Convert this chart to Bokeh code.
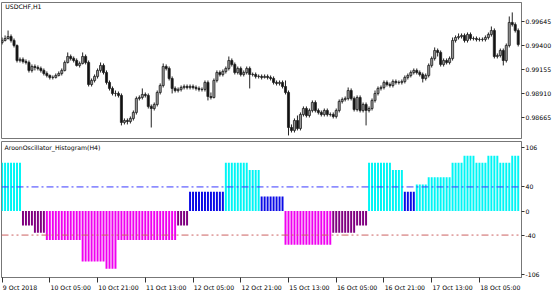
from bokeh.plotting import figure
from bokeh.models import ColumnDataSource, Range1d, FixedTicker, Label, Span, PrintfTickFormatter
from bokeh.layouts import column
from bokeh.embed import file_html
from bokeh.resources import INLINE

symbol_title = "USDCHF,H1"
indicator_title = "AroonOscillator_Histogram(H4)"

open_ = [0.99431, 0.99452, 0.99472, 0.99492, 0.99452, 0.99401, 0.99248, 0.99259, 0.99238, 0.99228,
         0.99147, 0.99187, 0.99177, 0.99167, 0.99147, 0.99116, 0.99096, 0.99076, 0.99076, 0.99096,
         0.99116, 0.99147, 0.99228, 0.99289, 0.99269, 0.99248, 0.99198, 0.99218, 0.99289, 0.99228,
         0.99004, 0.99045, 0.99086, 0.99147, 0.99198, 0.99126, 0.99025, 0.98964, 0.98913, 0.98913,
         0.98893, 0.98618, 0.98638, 0.98628, 0.98659, 0.98720, 0.98862, 0.98872, 0.98903, 0.98893,
         0.98781, 0.98760, 0.98801, 0.98923, 0.98994, 0.99187, 0.99167, 0.99065, 0.98964, 0.98943,
         0.98954, 0.98974, 0.98984, 0.98974, 0.98984, 0.98974, 0.98964, 0.98954, 0.98954, 0.99025,
         0.98882, 0.98872, 0.99045, 0.99126, 0.99106, 0.99137, 0.99167, 0.99248, 0.99208, 0.99126,
         0.99167, 0.99106, 0.99126, 0.99167, 0.99106, 0.99106, 0.99086, 0.99086, 0.99076, 0.99086,
         0.99076, 0.99065, 0.99025, 0.99015, 0.99025, 0.98984, 0.98923, 0.98567, 0.98537, 0.98638,
         0.98557, 0.98699, 0.98760, 0.98689, 0.98740, 0.98821, 0.98740, 0.98720, 0.98699, 0.98740,
         0.98699, 0.98699, 0.98679, 0.98740, 0.98832, 0.98852, 0.98862, 0.98943, 0.98862, 0.98750,
         0.98872, 0.98740, 0.98801, 0.98740, 0.98760, 0.98842, 0.98913, 0.98964, 0.98974, 0.99025,
         0.99004, 0.98994, 0.99035, 0.99025, 0.99025, 0.99035, 0.99076, 0.99096, 0.99126, 0.99147,
         0.99126, 0.99106, 0.99065, 0.99096, 0.99198, 0.99269, 0.99350, 0.99330, 0.99208, 0.99248,
         0.99228, 0.99269, 0.99452, 0.99482, 0.99492, 0.99503, 0.99452, 0.99513, 0.99472, 0.99472,
         0.99462, 0.99462, 0.99462, 0.99482, 0.99513, 0.99553, 0.99289, 0.99299, 0.99350, 0.99248,
         0.99401, 0.99635, 0.99614, 0.99553]

high = [0.99482, 0.99503, 0.99553, 0.99513, 0.99472, 0.99411, 0.99279, 0.99279, 0.99259, 0.99248,
        0.99208, 0.99208, 0.99198, 0.99187, 0.99167, 0.99137, 0.99106, 0.99096, 0.99116, 0.99137,
        0.99167, 0.99248, 0.99330, 0.99309, 0.99289, 0.99269, 0.99238, 0.99330, 0.99309, 0.99248,
        0.99065, 0.99106, 0.99167, 0.99228, 0.99218, 0.99147, 0.99045, 0.98984, 0.98943, 0.98933,
        0.98913, 0.98659, 0.98659, 0.98679, 0.98740, 0.98882, 0.98893, 0.98964, 0.98923, 0.98913,
        0.98801, 0.98821, 0.98943, 0.99015, 0.99218, 0.99208, 0.99187, 0.99086, 0.98984, 0.98974,
        0.98994, 0.99004, 0.99004, 0.99004, 0.99004, 0.98994, 0.98984, 0.98974, 0.99045, 0.99045,
        0.98923, 0.99065, 0.99147, 0.99147, 0.99157, 0.99187, 0.99289, 0.99269, 0.99228, 0.99187,
        0.99187, 0.99147, 0.99187, 0.99187, 0.99126, 0.99126, 0.99106, 0.99106, 0.99106, 0.99106,
        0.99096, 0.99086, 0.99045, 0.99045, 0.99045, 0.99045, 0.98943, 0.98598, 0.98659, 0.98689,
        0.98720, 0.98781, 0.98781, 0.98760, 0.98842, 0.98842, 0.98760, 0.98740, 0.98760, 0.98760,
        0.98720, 0.98720, 0.98760, 0.98852, 0.98872, 0.98882, 0.98974, 0.98964, 0.98882, 0.98893,
        0.98893, 0.98821, 0.98821, 0.98781, 0.98862, 0.98943, 0.98984, 0.98994, 0.99045, 0.99045,
        0.99025, 0.99055, 0.99055, 0.99045, 0.99055, 0.99096, 0.99116, 0.99147, 0.99167, 0.99167,
        0.99147, 0.99126, 0.99116, 0.99218, 0.99289, 0.99381, 0.99370, 0.99350, 0.99269, 0.99269,
        0.99289, 0.99482, 0.99503, 0.99523, 0.99523, 0.99523, 0.99533, 0.99533, 0.99492, 0.99492,
        0.99482, 0.99482, 0.99503, 0.99533, 0.99594, 0.99574, 0.99320, 0.99370, 0.99370, 0.99421,
        0.99696, 0.99737, 0.99635, 0.99574]

low = [0.99411, 0.99442, 0.99462, 0.99431, 0.99381, 0.99228, 0.99228, 0.99218, 0.99208, 0.99126,
       0.99126, 0.99147, 0.99147, 0.99126, 0.99096, 0.99076, 0.99055, 0.99055, 0.99065, 0.99086,
       0.99096, 0.99137, 0.99218, 0.99248, 0.99228, 0.99187, 0.99177, 0.99208, 0.99208, 0.98984,
       0.98984, 0.99025, 0.99065, 0.99126, 0.99106, 0.99004, 0.98943, 0.98893, 0.98882, 0.98872,
       0.98588, 0.98598, 0.98598, 0.98608, 0.98638, 0.98699, 0.98842, 0.98852, 0.98872, 0.98760,
       0.98567, 0.98740, 0.98781, 0.98903, 0.98974, 0.99147, 0.99045, 0.98913, 0.98923, 0.98923,
       0.98933, 0.98954, 0.98954, 0.98954, 0.98954, 0.98943, 0.98933, 0.98933, 0.98933, 0.98842,
       0.98852, 0.98862, 0.99025, 0.99086, 0.99086, 0.99116, 0.99147, 0.99187, 0.99106, 0.99106,
       0.99086, 0.99086, 0.99106, 0.98964, 0.99086, 0.99065, 0.99065, 0.99055, 0.99065, 0.99055,
       0.99045, 0.99004, 0.98994, 0.98994, 0.98964, 0.98903, 0.98486, 0.98516, 0.98516, 0.98537,
       0.98537, 0.98679, 0.98669, 0.98669, 0.98720, 0.98720, 0.98699, 0.98679, 0.98679, 0.98679,
       0.98679, 0.98659, 0.98659, 0.98720, 0.98811, 0.98832, 0.98842, 0.98842, 0.98730, 0.98730,
       0.98720, 0.98720, 0.98588, 0.98720, 0.98740, 0.98821, 0.98893, 0.98943, 0.98954, 0.98984,
       0.98974, 0.98974, 0.99004, 0.99004, 0.99004, 0.99015, 0.99055, 0.99076, 0.99106, 0.99106,
       0.99086, 0.99025, 0.99045, 0.99076, 0.99177, 0.99248, 0.99289, 0.99187, 0.99187, 0.99208,
       0.99208, 0.99248, 0.99431, 0.99462, 0.99472, 0.99431, 0.99431, 0.99452, 0.99452, 0.99442,
       0.99442, 0.99442, 0.99442, 0.99462, 0.99492, 0.99269, 0.99269, 0.99279, 0.99198, 0.99228,
       0.99381, 0.99594, 0.99533, 0.99391]

close = [0.99452, 0.99472, 0.99492, 0.99452, 0.99401, 0.99248, 0.99259, 0.99238, 0.99228, 0.99147,
         0.99187, 0.99177, 0.99167, 0.99147, 0.99116, 0.99096, 0.99076, 0.99076, 0.99096, 0.99116,
         0.99147, 0.99228, 0.99289, 0.99269, 0.99248, 0.99198, 0.99218, 0.99289, 0.99228, 0.99004,
         0.99045, 0.99086, 0.99147, 0.99198, 0.99126, 0.99025, 0.98964, 0.98913, 0.98913, 0.98893,
         0.98618, 0.98638, 0.98628, 0.98659, 0.98720, 0.98862, 0.98872, 0.98903, 0.98893, 0.98781,
         0.98760, 0.98801, 0.98923, 0.98994, 0.99187, 0.99167, 0.99065, 0.98964, 0.98943, 0.98954,
         0.98974, 0.98984, 0.98974, 0.98984, 0.98974, 0.98964, 0.98954, 0.98954, 0.99025, 0.98882,
         0.98872, 0.99045, 0.99126, 0.99106, 0.99137, 0.99167, 0.99248, 0.99208, 0.99126, 0.99167,
         0.99106, 0.99126, 0.99167, 0.99106, 0.99106, 0.99086, 0.99086, 0.99076, 0.99086, 0.99076,
         0.99065, 0.99025, 0.99015, 0.99025, 0.98984, 0.98923, 0.98567, 0.98537, 0.98638, 0.98557,
         0.98699, 0.98760, 0.98689, 0.98740, 0.98821, 0.98740, 0.98720, 0.98699, 0.98740, 0.98699,
         0.98699, 0.98679, 0.98740, 0.98832, 0.98852, 0.98862, 0.98943, 0.98862, 0.98750, 0.98872,
         0.98740, 0.98801, 0.98740, 0.98760, 0.98842, 0.98913, 0.98964, 0.98974, 0.99025, 0.99004,
         0.98994, 0.99035, 0.99025, 0.99025, 0.99035, 0.99076, 0.99096, 0.99126, 0.99147, 0.99126,
         0.99106, 0.99065, 0.99096, 0.99198, 0.99269, 0.99350, 0.99330, 0.99208, 0.99248, 0.99228,
         0.99269, 0.99452, 0.99482, 0.99492, 0.99503, 0.99452, 0.99513, 0.99472, 0.99472, 0.99462,
         0.99462, 0.99462, 0.99482, 0.99513, 0.99553, 0.99289, 0.99299, 0.99350, 0.99248, 0.99401,
         0.99635, 0.99614, 0.99553, 0.99411]

aroon = [80, 80, 80, 80, 80, 80, 80,
         -24, -24, -24, -24,
         -36, -36, -36, -36,
         -48, -48, -48, -48, -48, -48, -48, -48, -48, -48, -48, -48,
         -84, -84, -84, -84, -84, -84, -84, -84,
         -96, -96, -96, -96,
         -48, -48, -48, -48, -48, -48, -48, -48, -48, -48,
         -48, -48, -48, -48, -48, -48, -48, -48, -48, -48,
         -24, -24, -24, -24,
         32, 32, 32, 32, 32, 32, 32, 32, 32, 32, 32, 32,
         80, 80, 80, 80, 80, 80, 80, 80,
         68, 68, 68, 68,
         24, 24, 24, 24, 24, 24, 24, 24,
         -56, -56, -56, -56, -56, -56, -56, -56, -56, -56, -56, -56, -56, -56, -56, -56,
         -36, -36, -36, -36, -36, -36, -36, -36,
         -24, -24, -24, -24,
         80, 80, 80, 80, 80, 80, 80, 80,
         68, 68, 68, 68,
         32, 32, 32, 32,
         44, 44, 44, 44,
         56, 56, 56, 56, 56, 56, 56, 56,
         80, 80, 80, 80,
         92, 92, 92, 92,
         80, 80, 80, 80,
         92, 92, 92, 92,
         80, 80, 80, 80,
         92, 92, 92]

price_ticks = [0.98665, 0.98910, 0.99155, 0.99400, 0.99645]
osc_ticks = [-106, -40, 0, 40, 106]
osc_levels = [40, -40]
time_tick_bars = [0, 16, 32, 48, 64, 80, 96, 112, 128, 144, 160]
time_tick_labels = ["9 Oct 2018", "10 Oct 05:00", "10 Oct 21:00", "11 Oct 13:00",
                    "12 Oct 05:00", "12 Oct 21:00", "15 Oct 13:00", "16 Oct 05:00",
                    "16 Oct 21:00", "17 Oct 13:00", "18 Oct 05:00"]

FONT = "DejaVu Sans"
FS = "6.2px"
FRAME = "#777777"

n = len(close)
bars = list(range(n))
up = [c >= o for o, c in zip(open_, close)]
candles = ColumnDataSource(dict(
    x=bars, high=high, low=low,
    top=[max(o, c) for o, c in zip(open_, close)],
    bottom=[min(o, c) for o, c in zip(open_, close)],
    fill=["#9a9a9a" if u else "#111111" for u in up],
))


def osc_color(v):
    if v > 40:
        return "#00f5f5"
    if v > 0:
        return "#0a0ae6"
    if v < -40:
        return "#f000f0"
    return "#800080"


hist = ColumnDataSource(dict(x=bars, top=aroon, color=[osc_color(v) for v in aroon]))

xr = Range1d(-0.2, 174.1)

p1 = figure(frame_width=520, frame_height=136, x_range=xr, y_range=Range1d(0.98455, 0.99838),
            output_backend="svg", toolbar_location=None, x_axis_location=None,
            y_axis_location="right", min_border_left=1, min_border_right=39,
            min_border_top=2, min_border_bottom=1)
p1.segment(x0="x", x1="x", y0="low", y1="high", source=candles, line_color="#222222", line_width=1)
p1.vbar(x="x", width=0.7, top="top", bottom="bottom", source=candles,
        fill_color="fill", line_color="#222222", line_width=0.8)
p1.add_layout(Label(x=3.7, y=128.5, x_units="screen", y_units="screen", text=symbol_title,
                    text_font=FONT, text_font_size=FS, text_color="black"))

p2 = figure(frame_width=520, frame_height=136, x_range=xr, y_range=Range1d(-110.5, 115.5),
            output_backend="svg", toolbar_location=None, y_axis_location="right",
            min_border_left=1, min_border_right=39, min_border_top=2, min_border_bottom=17)
p2.vbar(x="x", width=0.66, top="top", bottom=0, source=hist, fill_color="color",
        line_color=None)
p2.add_layout(Span(location=osc_levels[0], dimension="width", line_color="#3a3aff",
                   line_width=1, line_dash="7 3 2 3"))
p2.add_layout(Span(location=osc_levels[1], dimension="width", line_color="#cc6060",
                   line_width=1, line_dash="7 3 2 3 2 3"))
p2.add_layout(Label(x=3, y=126.3, x_units="screen", y_units="screen", text=indicator_title,
                    text_font=FONT, text_font_size=FS, text_color="black"))

for p in (p1, p2):
    p.grid.visible = False
    p.outline_line_color = FRAME
    p.background_fill_color = "white"
    p.border_fill_color = "white"
    ya = p.yaxis[0]
    ya.axis_line_color = FRAME
    ya.major_tick_out = 3
    ya.major_tick_in = 0
    ya.major_tick_line_color = "#333333"
    ya.minor_tick_line_color = None
    ya.major_label_standoff = 1
    ya.major_label_text_font = FONT
    ya.major_label_text_font_size = FS
    ya.major_label_text_color = "black"

p1.yaxis[0].ticker = FixedTicker(ticks=price_ticks)
p1.yaxis[0].formatter = PrintfTickFormatter(format="%.5f")
p2.yaxis[0].ticker = FixedTicker(ticks=osc_ticks)
p2.yaxis[0].formatter = PrintfTickFormatter(format="%d")

label_pos = [t + (6 if k == 0 else 7) for k, t in enumerate(time_tick_bars)]
xa = p2.xaxis[0]
xa.ticker = FixedTicker(ticks=label_pos, minor_ticks=time_tick_bars)
xa.major_label_overrides = {pos: lab for pos, lab in zip(label_pos, time_tick_labels)}
xa.axis_line_color = FRAME
xa.major_tick_line_color = None
xa.major_tick_out = 5
xa.major_tick_in = 0
xa.minor_tick_out = 5
xa.minor_tick_in = 0
xa.minor_tick_line_color = "#333333"
xa.major_label_standoff = 1
xa.major_label_text_font = FONT
xa.major_label_text_font_size = FS
xa.major_label_text_color = "black"

layout = column(p1, p2, spacing=0)
open("out.html", "w").write(file_html(layout, INLINE))
